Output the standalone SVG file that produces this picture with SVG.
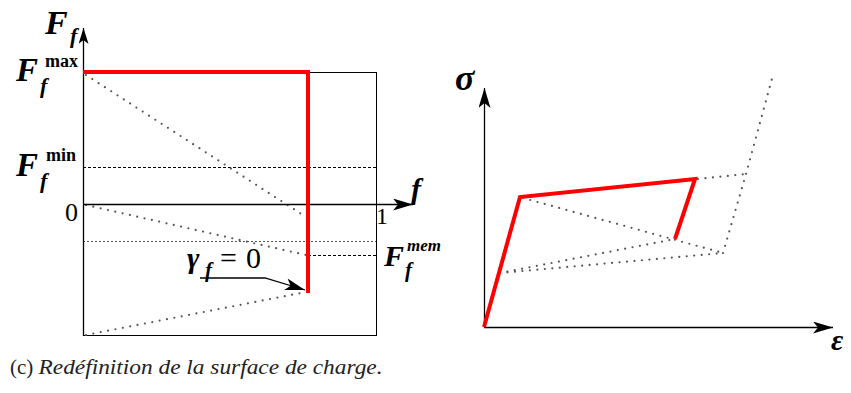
<svg xmlns="http://www.w3.org/2000/svg" width="851" height="393" viewBox="0 0 851 393">
<style>
.ax{stroke:#000;stroke-width:1.3;fill:none}
.box{stroke:#000;stroke-width:1;fill:none}
.red{stroke:#ff0000;stroke-width:4;fill:none;stroke-linejoin:miter}
.dot{stroke:#555;stroke-width:2.2;fill:none;stroke-dasharray:0 7.5;stroke-linecap:round}
.dash{stroke:#000;stroke-width:1;fill:none;stroke-dasharray:3 2}
.gdash{stroke:#555;stroke-width:1;fill:none;stroke-dasharray:2 2}
.m{font-style:italic;font-weight:bold;fill:#000}
.n{fill:#000}
.cap{font-size:21px;fill:#222}
</style>
<defs>
<marker id="ah" viewBox="0 0 20 12" refX="20" refY="6" markerWidth="20" markerHeight="12" markerUnits="userSpaceOnUse" orient="auto">
<path d="M0,0 L20,6 L0,12 L5,6 Z" fill="#000"/>
</marker>
<marker id="ahs" viewBox="0 0 16 10" refX="16" refY="5" markerWidth="16" markerHeight="10" markerUnits="userSpaceOnUse" orient="auto">
<path d="M0,0 L16,5 L0,10 L4,5 Z" fill="#000"/>
</marker>
</defs>

<g id="left-chart">
<rect class="box" x="83.5" y="72.5" width="293" height="263"/>
<line class="dash" x1="83" y1="167.5" x2="376" y2="167.5"/>
<line class="gdash" x1="83" y1="241.5" x2="376" y2="241.5"/>
<line class="dash" x1="308" y1="255.5" x2="376" y2="255.5"/>
<line class="dot" x1="86" y1="75" x2="306" y2="217"/>
<line class="dot" x1="86" y1="205" x2="306" y2="255"/>
<line class="dot" x1="86" y1="335" x2="306" y2="292"/>
<line class="ax" x1="83.5" y1="336" x2="83.5" y2="28" marker-end="url(#ahs)"/>
<line class="ax" x1="83" y1="204.5" x2="413" y2="204.5" marker-end="url(#ah)"/>
<polyline class="red" points="83,72 308,72 308,293"/>
<path class="ax" d="M200,278 L265,278 L305,290" stroke-width="1.6" marker-end="url(#ah)"/>
</g>

<g id="left-labels" font-family="Liberation Serif, serif">
<text class="m" x="45" y="34" font-size="34">F</text>
<text class="m" x="70" y="43" font-size="22">f</text>
<text class="m" x="16" y="81" font-size="33">F</text>
<text class="m" x="40" y="93" font-size="22">f</text>
<text class="n" x="45" y="67" font-size="18" font-weight="bold">max</text>
<text class="m" x="16" y="176" font-size="33">F</text>
<text class="m" x="40" y="188" font-size="22">f</text>
<text class="n" x="46" y="161" font-size="18" font-weight="bold">min</text>
<text class="n" x="65" y="221" font-size="26">0</text>
<text class="n" x="376" y="224" font-size="24">1</text>
<text class="m" x="411" y="199" font-size="30">f</text>
<text class="m" x="384" y="266" font-size="30">F</text>
<text class="m" x="405" y="277" font-size="21">f</text>
<text class="m" x="407" y="251" font-size="17">mem</text>
<text class="m" x="187" y="268" font-size="30">γ</text>
<text class="m" x="205" y="277" font-size="21">f</text>
<text class="n" x="220" y="268" font-size="30">=</text>
<text class="n" x="246" y="268" font-size="30">0</text>
</g>

<g id="right-chart" font-family="Liberation Serif, serif">
<line class="ax" x1="484.5" y1="327" x2="484.5" y2="88" marker-end="url(#ah)"/>
<line class="ax" x1="484" y1="327.5" x2="833" y2="327.5" marker-end="url(#ah)"/>
<line class="dot" x1="523" y1="198" x2="723" y2="253"/>
<polyline class="dot" points="723,253 746,174 773,75"/>
<line class="dot" x1="698" y1="179" x2="746" y2="174"/>
<line class="dot" x1="500" y1="273" x2="675" y2="239"/>
<line class="dot" x1="500" y1="273" x2="723" y2="253"/>
<polyline class="red" points="484,327 520,197 695,179 675,239"/>
<text class="m" x="455" y="90" font-size="36">σ</text>
<text class="m" x="831" y="350" font-size="30">ε</text>
</g>

<text class="cap" font-family="Liberation Serif, serif" x="10" y="374">(c) <tspan font-style="italic" textLength="344" lengthAdjust="spacingAndGlyphs">Redéfinition de la surface de charge.</tspan></text>
</svg>
